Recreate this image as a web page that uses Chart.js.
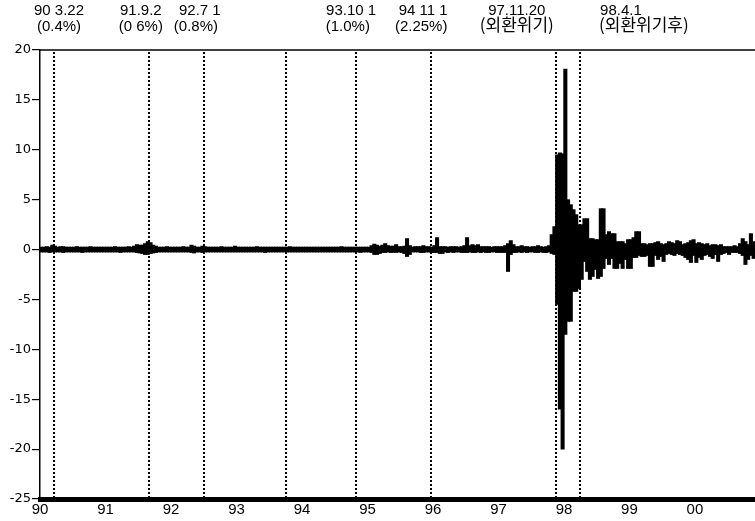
<!DOCTYPE html>
<html><head><meta charset="utf-8">
<script src="https://cdn.jsdelivr.net/npm/chart.js@4"></script>
<style>html,body{margin:0;padding:0;background:#fff}#w{width:755px;height:521px;position:relative}</style>
</head><body><div id="w"><canvas id="c"></canvas></div>
<script>
// Year ticks on the x axis (two-digit labels)
const yearTicks = [1990,1991,1992,1993,1994,1995,1996,1997,1998,1999,2000];
const yTicks = [20,15,10,5,0,-5,-10,-15,-20,-25];

// Half-month envelope of daily changes: upper and lower extremes
const highs = [
// 1990
0.25,0.25,0.3,0.25,0.45,0.35,0.25,0.3,0.3,0.25,0.25,0.25,0.25,0.3,0.25,0.25,0.25,0.25,0.3,0.25,0.25,0.25,0.25,0.25,
// 1991
0.25,0.25,0.25,0.3,0.25,0.25,0.25,0.25,0.3,0.25,0.35,0.5,0.45,0.45,0.6,0.8,0.7,0.45,0.35,0.25,0.25,0.25,0.3,0.25,
// 1992
0.25,0.25,0.25,0.25,0.3,0.25,0.25,0.45,0.35,0.25,0.25,0.35,0.3,0.25,0.25,0.25,0.25,0.25,0.3,0.25,0.25,0.25,0.25,0.35,
// 1993
0.25,0.25,0.25,0.25,0.25,0.25,0.25,0.3,0.25,0.25,0.25,0.25,0.25,0.25,0.25,0.25,0.25,0.25,0.25,0.3,0.25,0.25,0.25,0.25,
// 1994
0.25,0.25,0.25,0.25,0.25,0.25,0.25,0.25,0.25,0.25,0.25,0.25,0.25,0.25,0.3,0.25,0.25,0.25,0.25,0.25,0.25,0.25,0.25,0.25,
// 1995
0.25,0.4,0.55,0.45,0.35,0.45,0.6,0.4,0.35,0.35,0.5,0.3,0.3,0.35,1.1,0.4,0.25,0.3,0.3,0.3,0.4,0.3,0.3,0.25,
// 1996
0.4,1.2,0.3,0.3,0.3,0.25,0.3,0.3,0.3,0.25,0.3,0.4,1.2,0.4,0.5,0.4,0.5,0.3,0.3,0.3,0.3,0.25,0.3,0.3,
// 1997
0.3,0.3,0.4,0.6,0.9,0.5,0.3,0.3,0.4,0.3,0.3,0.25,0.3,0.3,0.4,0.3,0.25,0.3,0.4,1.5,2.3,9.5,9.7,9.6,
// 1998
18.1,5.0,4.5,4.0,3.5,2.5,2.5,3.1,3.1,1.1,1.1,1.0,1.0,4.1,4.1,1.5,1.8,1.6,1.6,0.8,0.8,0.8,0.6,1.0,
// 1999
1.0,1.2,1.8,1.8,0.6,0.6,0.5,0.6,0.6,0.7,0.8,0.6,0.5,0.6,0.8,0.7,0.6,0.9,0.8,0.5,0.6,0.7,0.9,1.0,
// 2000
0.6,0.7,0.6,0.5,0.6,0.4,0.5,0.5,0.4,0.5,0.3,0.3,0.3,0.3,0.4,0.3,0.6,1.1,0.8,0.5,1.6,0.8
];
const lows = [
// 1990
-0.25,-0.25,-0.25,-0.3,-0.25,-0.25,-0.25,-0.25,-0.3,-0.25,-0.25,-0.25,-0.25,-0.25,-0.25,-0.3,-0.25,-0.25,-0.25,-0.25,-0.25,-0.25,-0.25,-0.25,
// 1991
-0.25,-0.25,-0.25,-0.25,-0.25,-0.3,-0.25,-0.25,-0.25,-0.25,-0.25,-0.3,-0.35,-0.4,-0.5,-0.5,-0.4,-0.35,-0.3,-0.25,-0.25,-0.25,-0.25,-0.25,
// 1992
-0.25,-0.25,-0.25,-0.25,-0.25,-0.25,-0.25,-0.3,-0.35,-0.25,-0.25,-0.3,-0.25,-0.25,-0.25,-0.25,-0.25,-0.25,-0.25,-0.25,-0.25,-0.25,-0.25,-0.25,
// 1993
-0.25,-0.25,-0.25,-0.25,-0.25,-0.25,-0.25,-0.25,-0.25,-0.25,-0.3,-0.25,-0.25,-0.25,-0.25,-0.25,-0.25,-0.25,-0.25,-0.25,-0.25,-0.25,-0.25,-0.25,
// 1994
-0.25,-0.25,-0.25,-0.25,-0.25,-0.25,-0.25,-0.25,-0.25,-0.25,-0.25,-0.25,-0.25,-0.25,-0.25,-0.25,-0.25,-0.25,-0.25,-0.25,-0.25,-0.3,-0.25,-0.25,
// 1995
-0.25,-0.3,-0.5,-0.5,-0.4,-0.3,-0.3,-0.25,-0.3,-0.3,-0.3,-0.25,-0.3,-0.4,-0.7,-0.5,-0.25,-0.25,-0.25,-0.3,-0.3,-0.25,-0.25,-0.3,
// 1996
-0.3,-0.3,-0.4,-0.4,-0.25,-0.3,-0.25,-0.3,-0.25,-0.25,-0.3,-0.3,-0.3,-0.25,-0.3,-0.3,-0.25,-0.3,-0.25,-0.3,-0.3,-0.25,-0.25,-0.3,
// 1997
-0.3,-0.3,-0.3,-2.2,-0.5,-0.3,-0.3,-0.25,-0.3,-0.25,-0.3,-0.25,-0.25,-0.3,-0.3,-0.25,-0.3,-0.3,-0.25,-0.4,-0.5,-5.5,-16,-20,
// 1998
-8.5,-7.2,-7.2,-4.2,-4.2,-3.9,-3.0,-1.2,-2.2,-3.0,-2.7,-2.0,-2.9,-2.7,-1.9,-0.9,-1.5,-0.9,-1.9,-1.9,-1.4,-1.9,-1.0,-1.9,
// 1999
-1.9,-0.8,-0.8,-0.6,-0.7,-0.7,-0.6,-1.7,-1.7,-0.6,-1.0,-0.7,-1.2,-0.5,-0.4,-0.5,-0.6,-0.4,-0.5,-0.6,-0.8,-1.0,-1.3,-0.6,
// 2000
-1.3,-0.8,-1.0,-0.6,-0.5,-0.7,-0.9,-0.5,-1.2,-0.5,-0.4,-0.3,-0.5,-0.3,-0.3,-0.3,-0.4,-0.6,-1.5,-1.0,-0.6,-0.9
];

// Event dates (fractional years) marked with dotted lines
const eventDates = [1990.22, 1991.67, 1992.50, 1993.75, 1994.83, 1995.97, 1997.88, 1998.25];
// Note texts above the plot
const noteLine1 = ['90 3.22','91.9.2','92.7 1','93.10 1','94 11 1','97.11.20','98.4.1'];
const noteLine2 = ['(0.4%)','(0 6%)','(0.8%)','(1.0%)','(2.25%)','(외환위기)','(외환위기후)'];
const noteAt1 = [1990.29,1991.54,1992.44,1994.75,1995.85,1997.28,1998.87];
const noteAt2 = [1990.29,1991.54,1992.38,1994.70,1995.82,1997.28,1999.22];

// half-month periods (time axis)
const periods = [];
for (let y = 1990; y <= 2000; y++) {
  for (let h = 0; h < 24; h++) {
    if (periods.length < highs.length) periods.push(y + (h + 0.5) / 24);
  }
}
const xMin = 1990, xMax = 1990 + highs.length / 24;

const barData = periods.map((x, k) => ({x: x, y: [lows[k], highs[k]]}));

const overlay = {
  id: 'overlay',
  afterDatasetsDraw(chart) {
    const {ctx, chartArea: a, scales: {x}} = chart;
    ctx.save();
    // top frame line
    ctx.strokeStyle = '#000';
    ctx.lineWidth = 1.5;
    ctx.beginPath(); ctx.moveTo(a.left, a.top); ctx.lineTo(a.right, a.top); ctx.stroke();
    // dotted event lines
    ctx.lineWidth = 2;
    ctx.setLineDash([2, 2]);
    eventDates.forEach(d => {
      const px = Math.round(x.getPixelForValue(d));
      ctx.beginPath(); ctx.moveTo(px, a.top + 2); ctx.lineTo(px, a.bottom - 2); ctx.stroke();
    });
    ctx.setLineDash([]);
    // notes
    ctx.fillStyle = '#000';
    ctx.textAlign = 'center';
    ctx.textBaseline = 'alphabetic';
    const fontFor = t => /[\uAC00-\uD7A3]/.test(t)
      ? '17px "Noto Sans CJK KR", "Liberation Sans", sans-serif'
      : '15px "Liberation Sans", "Noto Sans CJK KR", sans-serif';
    noteLine1.forEach((t, i) => { ctx.font = fontFor(t); ctx.fillText(t, x.getPixelForValue(noteAt1[i]), 15); });
    noteLine2.forEach((t, i) => { ctx.font = fontFor(t); ctx.fillText(t, x.getPixelForValue(noteAt2[i]), 31); });
    ctx.restore();
  }
};

new Chart(document.getElementById('c'), {
  type: 'bar',
  data: { datasets: [{
    data: barData,
    backgroundColor: '#000',
    borderWidth: 0,
    barThickness: 3.4,
    borderSkipped: false
  }]},
  options: {
    responsive: true,
    maintainAspectRatio: false,
    animation: false,
    events: [],
    layout: { padding: { top: 50, right: 0, left: 0, bottom: 0 } },
    plugins: { legend: { display: false }, tooltip: { enabled: false } },
    scales: {
      x: {
        type: 'linear',
        min: xMin, max: xMax,
        offset: false,
        afterBuildTicks: s => { s.ticks = yearTicks.map(v => ({value: v})); },
        afterFit: s => { s.height = 22; },
        grid: { display: false, drawTicks: false },
        border: { display: true, color: '#000', width: 5 },
        ticks: {
          color: '#000', padding: 2, maxRotation: 0, autoSkip: false,
          font: { family: '"Liberation Sans", Arial, sans-serif', size: 15 },
          callback: v => String(v % 100).padStart(2, '0')
        }
      },
      y: {
        min: -25, max: 20,
        afterBuildTicks: s => { s.ticks = yTicks.map(v => ({value: v})); },
        afterFit: s => { s.width = 40; },
        grid: { drawOnChartArea: false, drawTicks: true, tickLength: 8, color: '#000', lineWidth: 1.2 },
        border: { display: true, color: '#000', width: 1.5 },
        ticks: {
          color: '#000', padding: 1,
          font: { family: '"DejaVu Sans", sans-serif', size: 13 }
        }
      }
    }
  },
  plugins: [overlay]
});
</script>
</body></html>
